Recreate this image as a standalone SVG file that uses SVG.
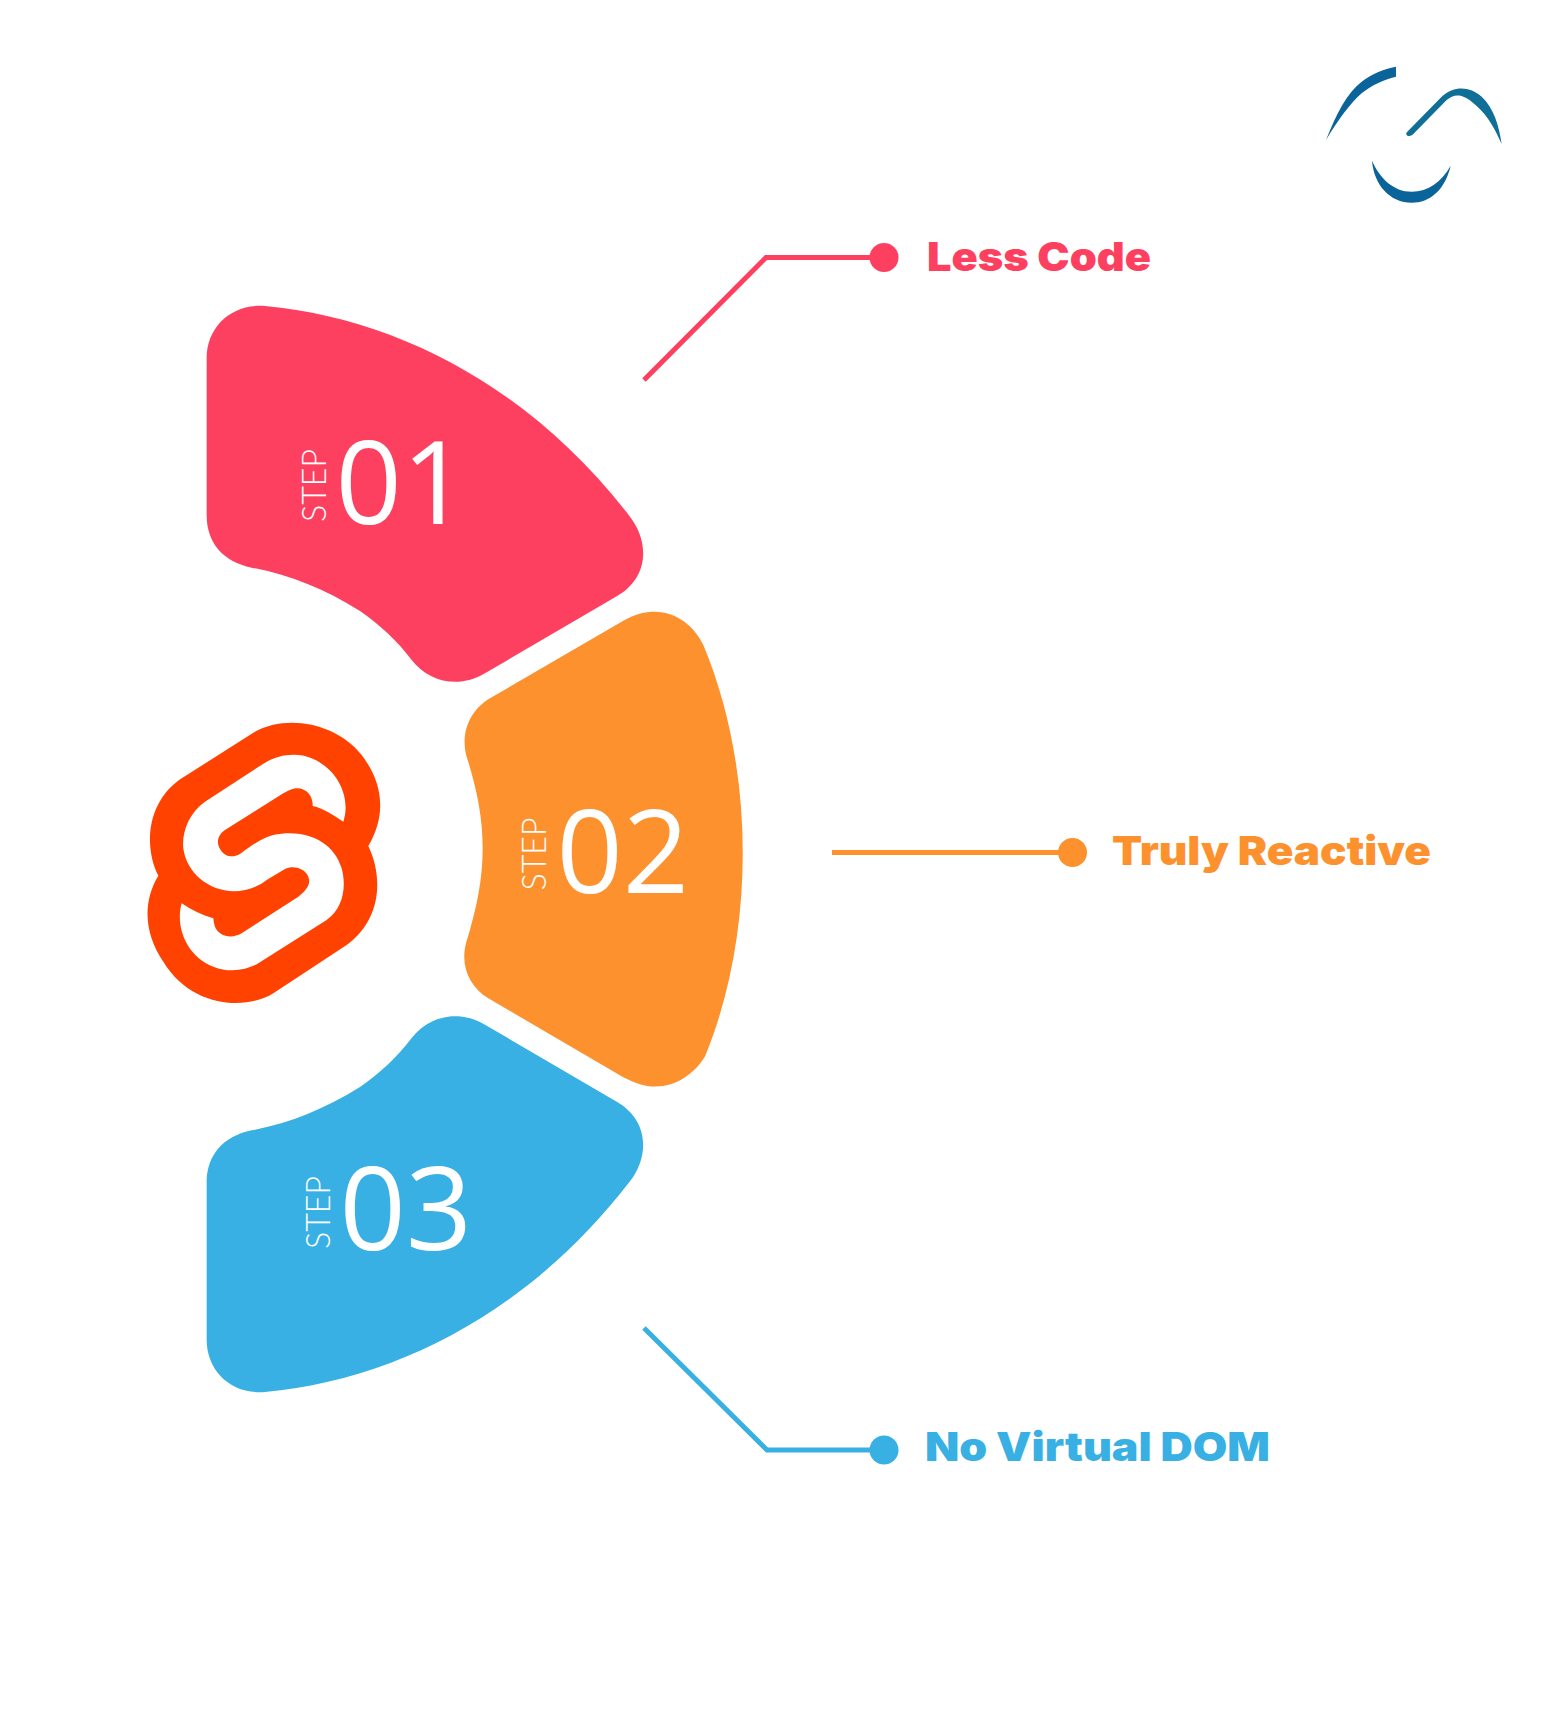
<svg xmlns="http://www.w3.org/2000/svg" width="1563" height="1713" viewBox="0 0 1563 1713">
<style>
.num{font-family:"Open Sans","Liberation Sans",sans-serif;font-size:116px;fill:#fff}
.step{font-family:Lato,"Open Sans","Liberation Sans",sans-serif;font-weight:300;font-size:33px;fill:#fff}
.lbl{font-family:Inter,"Liberation Sans",sans-serif;font-weight:900;font-size:40px}
.conn{fill:none;stroke-width:5}
.red{fill:#fd4060}.org{fill:#fc912e}.blu{fill:#38b0e3}
</style>
<rect width="1563" height="1713" fill="#fff"/>
<g id="brand-mark" transform="translate(1300 50) scale(.3333)">
<path fill="#0a6399" d="M78 270C110 190 140 130 185 95C215 72 250 57 288 50V80C250 90 215 105 185 130C150 160 115 210 78 270Z"/>
<path fill="#0f6f97" d="M322 245L425 140C465 105 510 110 545 140C580 172 597 225 605 282C580 225 555 185 515 155C480 128 460 135 440 150L340 252C328 264 312 255 322 245Z"/>
<path fill="#0a6399" d="M216 332C240 385 280 425 335 425C385 425 425 395 452 347C435 420 390 458 335 458C270 458 222 405 216 332Z"/>
</g>
<g id="svelte-logo" transform="translate(130 700) scale(.3333)">
<path fill="#ff4200" d="M160 232L370 98C470 40 620 70 695 165C760 250 770 345 715 438C760 530 755 660 650 735L430 880C350 930 185 925 100 785C45 705 35 610 85 527C40 440 50 300 160 232Z"/>
<path fill="#fff" d="M640 365C665 290 620 205 545 175C500 155 445 165 410 185L225 305C175 340 155 400 160 445C170 530 260 590 345 570C370 565 390 555 410 540L465 507C490 495 525 505 535 530C545 555 525 575 505 590L335 700C300 720 265 705 255 680Q250 665 250 655C215 645 185 630 155 610C135 680 170 770 250 800C300 820 350 810 385 790L590 660C640 625 650 560 635 505C610 420 520 385 430 405C400 412 375 430 335 458C310 477 285 470 272 450C258 430 262 405 285 390L460 280C470 275 480 268 497 265C530 262 550 290 548 318C580 325 610 345 640 365Z"/>
</g>
<g id="connectors">
<path class="conn" stroke="#fd4060" d="M644 380L766 257.500H884"/>
<path class="conn" stroke="#fc912e" d="M832 852.500H1072"/>
<path class="conn" stroke="#38b0e3" d="M644 1328L767 1450H884"/>
</g>
<g id="step-01">
<path class="red" transform="translate(190 290) scale(.3333)" d="M50 205C50 110 125 40 225 48C620 85 1020 290 1320 680C1375 750 1385 865 1270 925L885 1150C810 1195 720 1180 665 1110C620 1050 570 1005 510 963C400 895 300 855 185 833C100 815 50 760 50 675Z"/>
<text class="step" transform="translate(325.500 522) rotate(-90)" textLength="73" lengthAdjust="spacingAndGlyphs">STEP</text>
<text class="num" x="335.500" y="524">01</text>
</g>
<g id="step-02">
<path class="org" transform="translate(450 600) scale(.3333)" d="M520 62C555 42 585 35 615 35C680 35 735 80 760 135C917 510 917 1000 765 1370C735 1420 680 1460 615 1460C585 1460 555 1450 520 1432L115 1195C60 1160 30 1100 48 1030C80 925 98 840 98 745C98 650 80 565 50 470C30 400 60 330 120 295Z"/>
<text class="step" transform="translate(545.500 890.500) rotate(-90)" textLength="73" lengthAdjust="spacingAndGlyphs">STEP</text>
<text class="num" x="556.500" y="892.500">02</text>
</g>
<g id="step-03">
<path class="blu" transform="translate(190 1408) scale(.3333 -.3333)" d="M50 205C50 110 125 40 225 48C620 85 1020 290 1320 680C1375 750 1385 865 1270 925L885 1150C810 1195 720 1180 665 1110C620 1050 570 1005 510 963C400 895 300 855 185 833C100 815 50 760 50 675Z"/>
<text class="step" transform="translate(330 1249) rotate(-90)" textLength="73" lengthAdjust="spacingAndGlyphs">STEP</text>
<text class="num" x="339.500" y="1249.500">03</text>
</g>
<g id="label-less-code">
<circle class="red" cx="884" cy="257.500" r="14.500"/>
<text class="lbl red" x="927" y="271" textLength="224" lengthAdjust="spacingAndGlyphs">Less Code</text>
</g>
<g id="label-truly-reactive">
<circle class="org" cx="1072.500" cy="852.500" r="14.500"/>
<text class="lbl org" x="1112" y="865" textLength="319" lengthAdjust="spacingAndGlyphs">Truly Reactive</text>
</g>
<g id="label-no-virtual-dom">
<circle class="blu" cx="884" cy="1450" r="14.500"/>
<text class="lbl blu" x="925" y="1461" textLength="345" lengthAdjust="spacingAndGlyphs">No Virtual DOM</text>
</g>
</svg>
